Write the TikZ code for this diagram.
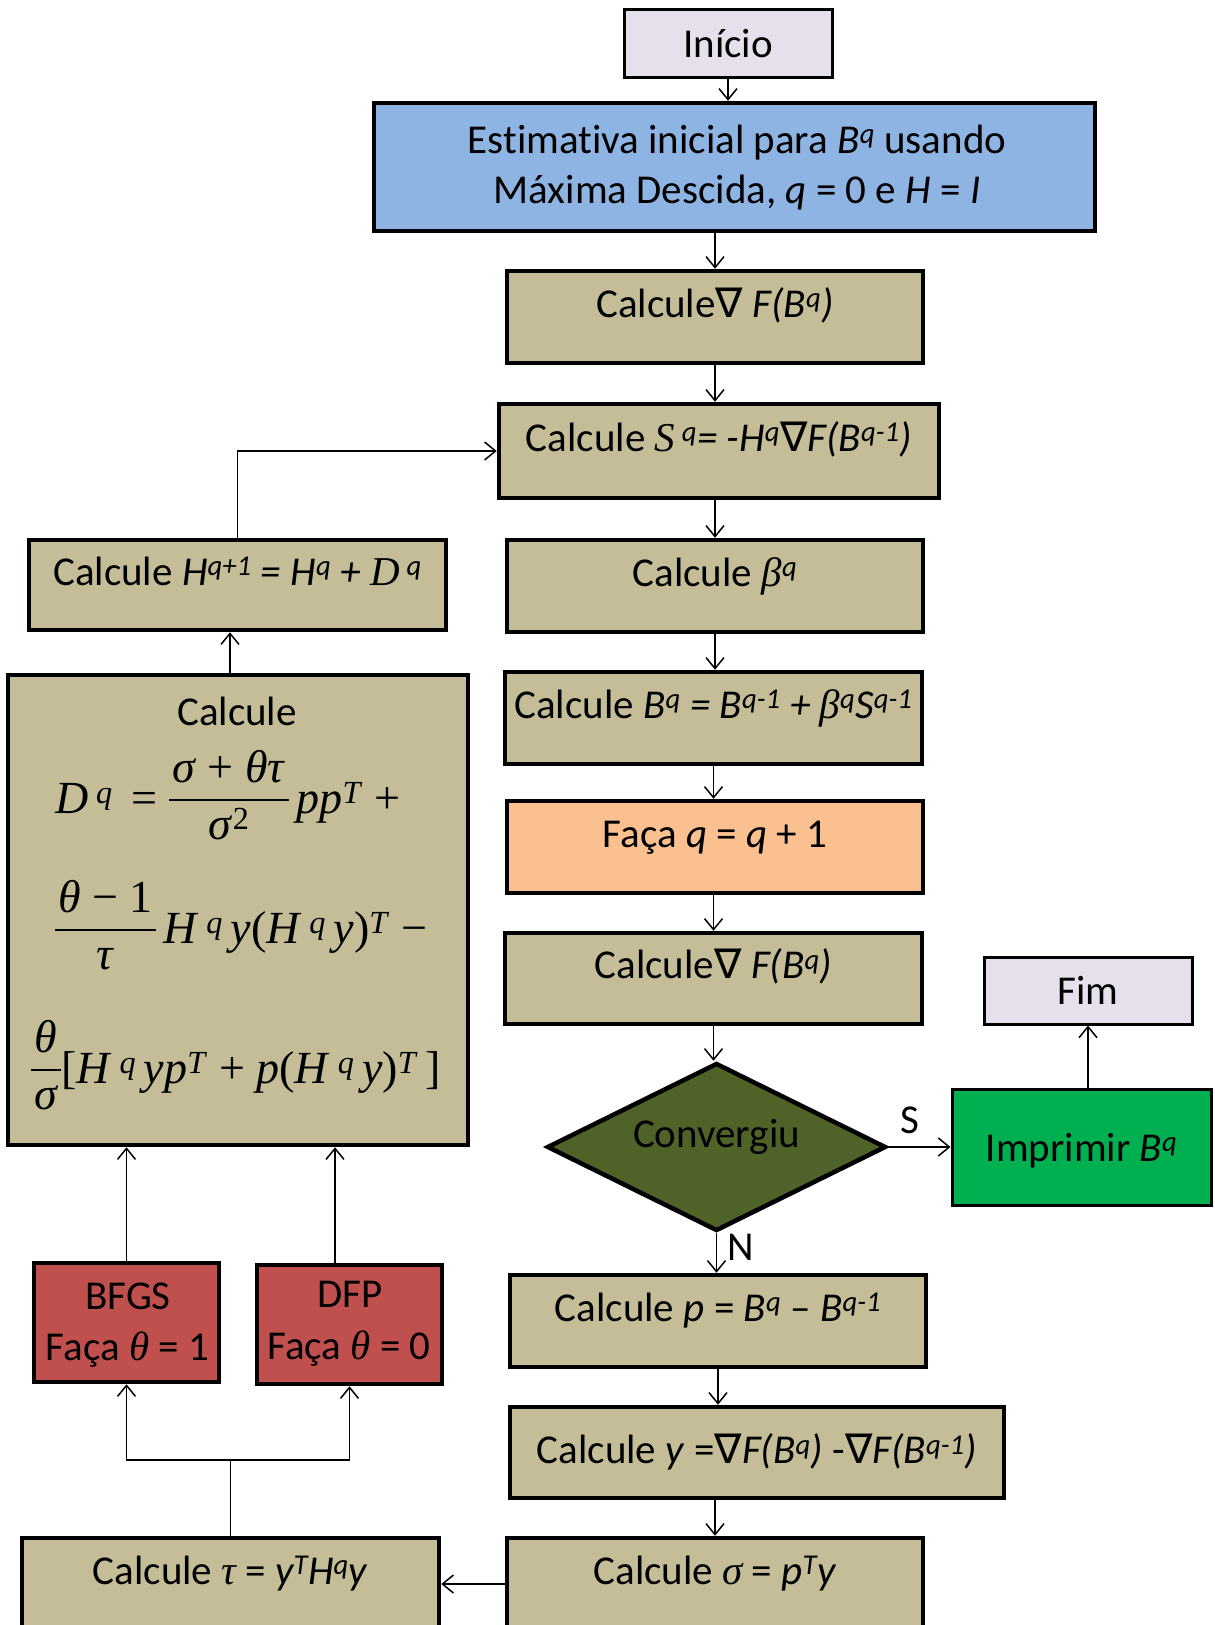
\documentclass[tikz,border=0pt]{standalone}
\usepackage{fontspec}
\setmainfont{Carlito}[Ligatures=NoCommon]
\newfontfamily\tms{Liberation Serif}
\newfontfamily\dvs{DejaVu Sans}
\usetikzlibrary{shapes.geometric,arrows.meta}
\setlength{\arrayrulewidth}{2pt}
\newcommand\nab{{\dvs\upshape ∇}}
\newcommand\fm{\tms\fontsize{46}{55}\selectfont}
\newcommand\fr[2]{\raisebox{-26pt}{\begin{tabular}[b]{@{\hspace{3pt}}c@{\hspace{3pt}}}#1\\\hline #2\end{tabular}}}
\definecolor{tanc}{HTML}{C4BD97}
\definecolor{blueone}{HTML}{8EB4E3}
\definecolor{lav}{HTML}{E6E0EC}
\definecolor{orangeone}{HTML}{FAC090}
\definecolor{oliveone}{HTML}{4F6228}
\definecolor{greenone}{HTML}{00B050}
\definecolor{redone}{HTML}{C0504D}
\begin{document}
\begin{tikzpicture}[x=1pt,y=-1pt,
  every node/.style={font=\fontsize{41}{50}\selectfont, inner sep=0pt},
  box/.style={draw=black, rectangle, line width=4.5pt, fill=tanc, text height=15pt, text depth=15pt},
  vc/.style={text height=28pt, text depth=0pt},
  term/.style={box, fill=lav, line width=3pt, vc},
  lbl/.style={anchor=base},
  conn/.style={line width=1.5pt, -{Straight Barb[length=11pt,width=18pt]}}]
\useasboundingbox (0,0) rectangle (1215,1625);

% right column
\node[term, minimum width=208, minimum height=68] (ini) at (728,43) {Início};
\node[box, fill=blueone, minimum width=721, minimum height=128] (est) at (734.5,167) {};
\node[lbl] (est1) at (737,153) {Estimativa inicial para \textit{B}\textsuperscript{\textit{q}} usando};
\node[lbl] (est2) at (737,203) {Máxima Descida, \textit{q} = 0 e \textit{H} = \textit{I}};
\node[box, minimum width=416, minimum height=92] (g1) at (715,317) {Calcule\nab\ \textit{F(B\textsuperscript{q})}};
\node[box, minimum width=440, minimum height=94] (S) at (719,451) {Calcule {\tms\itshape S}\textsuperscript{\textit{ q}}\textit{= -H\textsuperscript{q}}\nab\textit{F(B\textsuperscript{q-1})}};
\node[box, minimum width=416, minimum height=92] (beta) at (715,586) {Calcule {\tms\itshape β}\textsuperscript{\textit{q}}};
\node[box, minimum width=417, minimum height=92] (cb) at (713.5,718) {Calcule \textit{B\textsuperscript{q} = B\textsuperscript{q-1} + }{\tms\itshape β}\textit{\textsuperscript{q}S\textsuperscript{q-1}}};
\node[box, fill=orangeone, minimum width=416, minimum height=92] (fq) at (715,847) {Faça \textit{q} = \textit{q} + 1};
\node[box, minimum width=417, minimum height=91] (g2) at (713.5,978.5) {Calcule\nab\ \textit{F(B\textsuperscript{q})}};
\node[term, minimum width=208, minimum height=67] (fim) at (1088,990.5) {Fim};
\node[diamond, draw=black, line width=4.5pt, fill=oliveone, aspect=2, minimum width=339, minimum height=168, text height=15pt, text depth=15pt] (conv) at (716.5,1147) {Convergiu};
\node[box, fill=greenone, line width=3pt, vc, minimum width=259, minimum height=116] (imp) at (1081.5,1147) {Imprimir \textit{B\textsuperscript{q}}};
\node[box, minimum width=416, minimum height=92] (cp) at (718,1321) {Calcule \textit{p} = \textit{B\textsuperscript{q}} – \textit{B\textsuperscript{q-1}}};
\node[box, minimum width=494, minimum height=91, text height=26pt, text depth=4pt] (cy) at (757,1452.5) {Calcule \textit{y} =\nab\textit{F(B\textsuperscript{q})} -\nab\textit{F(B\textsuperscript{q-1})}};
\node[box, minimum width=416, minimum height=92] (sig) at (715,1584) {Calcule {\tms\itshape σ} = \textit{p\textsuperscript{T}y}};

% left column
\node[box, minimum width=417, minimum height=90] (ch) at (237.5,585) {Calcule \textit{H\textsuperscript{q+1} = H\textsuperscript{q} + }{\tms\itshape D}\textsuperscript{\textit{ q}}};
\node[box, minimum width=460, minimum height=470] (cd) at (238,910) {};
\node[lbl] (cdc) at (237,725) {Calcule};
\node[anchor=base west] (dl1) at (55,813) {\fm \textit{D}\,\textsuperscript{\textit{q}}\, = \fr{\textit{σ} + \textit{θτ}}{\textit{σ}\textsuperscript{2}}\,\textit{pp}\textsuperscript{\textit{T}} +};
\node[anchor=base west] (dl2) at (55,943) {\fm \fr{\textit{θ} − 1}{\textit{τ}}\,\textit{H}\,\textsuperscript{\textit{q}}\,\textit{y}(\textit{H}\,\textsuperscript{\textit{q}}\,\textit{y})\textsuperscript{\textit{T}} −};
\node[anchor=base west] (dl3) at (31,1083) {\fm \fr{\textit{θ}}{\textit{σ}}[\textit{H}\,\textsuperscript{\textit{q}}\,\textit{yp}\textsuperscript{\textit{T}} + \textit{p}(\textit{H}\,\textsuperscript{\textit{q}}\,\textit{y})\textsuperscript{\textit{T}}\,]};
\node[box, fill=redone, minimum width=185, minimum height=119] (bfgs) at (126.5,1322.5) {};
\node[lbl] (bfgs1) at (128,1309) {BFGS};
\node[lbl] (bfgs2) at (127.5,1360) {Faça {\tms\itshape θ} = 1};
\node[box, fill=redone, minimum width=185, minimum height=119] (dfp) at (349.5,1324.5) {};
\node[lbl] (dfp1) at (350,1307) {DFP};
\node[lbl] (dfp2) at (349,1359) {Faça {\tms\itshape θ} = 0};
\node[box, minimum width=417, minimum height=92] (tau) at (230.5,1584) {Calcule {\tms\itshape τ} = \textit{y\textsuperscript{T}H\textsuperscript{q}y}};

% connectors
\draw[conn] (ini.south) -- (ini.south |- est.north);
\draw[conn] (g1.north |- est.south) -- (g1.north);
\draw[conn] (g1.south) -- (g1.south |- S.north);
\draw[conn] (beta.north |- S.south) -- (beta.north);
\draw[conn] (beta.south) -- (beta.south |- cb.north);
\draw[conn] (cb.south) -- (cb.south |- fq.north);
\draw[conn] (g2.north |- fq.south) -- (g2.north);
\draw[conn] (g2.south) -- (g2.south |- conv.north);
\draw[conn] (conv.east) -- (imp.west);
\node[lbl] (slab) at (910,1133) {S};
\draw[conn] (conv.south) -- (conv.south |- cp.north);
\node[lbl] (nlab) at (741,1260) {N};
\draw[conn] (fim.south |- imp.north) -- (fim.south);
\draw[conn] (cp.south) -- (cp.south |- cy.north);
\draw[conn] (sig.north |- cy.south) -- (sig.north);
\draw[conn] (sig.west) -- (tau.east);
\coordinate (split) at (230.5,1460);
\draw[line width=1.5pt] (tau.north) -- (split);
\draw[conn] (split) -| (bfgs.south);
\draw[conn] (split) -| (dfp.south);
\draw[conn] (bfgs.north) -- (bfgs.north |- cd.south);
\coordinate (dfptop) at ([xshift=-14.5pt]dfp.north);
\draw[conn] (dfptop) -- (dfptop |- cd.south);
\coordinate (cdtop) at ([xshift=-8pt]cd.north);
\draw[conn] (cdtop) -- (cdtop |- ch.south);
\draw[conn] (ch.north) |- (S.west);
\end{tikzpicture}
\end{document}
